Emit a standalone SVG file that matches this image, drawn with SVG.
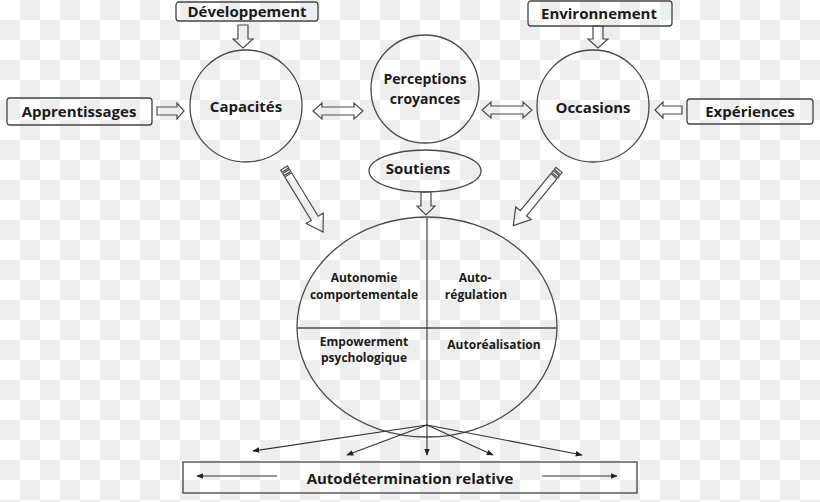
<svg xmlns="http://www.w3.org/2000/svg" width="820" height="502" viewBox="0 0 820 502">
<defs>
<pattern id="chk" width="40" height="40" patternUnits="userSpaceOnUse">
<rect width="40" height="40" fill="#ffffff"/>
<rect x="20" y="0" width="20" height="20" fill="#eeeeee"/>
<rect x="0" y="20" width="20" height="20" fill="#eeeeee"/>
</pattern>
<marker id="ah" viewBox="0 0 10 10" refX="9" refY="5" markerWidth="7" markerHeight="7" orient="auto" markerUnits="userSpaceOnUse">
<path d="M0,1 L10,5 L0,9 z" fill="#222"/>
</marker>
</defs>
<style>
.shape{fill:none;stroke:#4a4a4a;stroke-width:1.3}
.box{fill:none;stroke:#444;stroke-width:1.3}
.harrow{fill:none;stroke:#4a4a4a;stroke-width:1.2;stroke-linejoin:miter}
.lbl{font-family:"Open Sans","Liberation Sans",sans-serif;font-weight:700;fill:#1a1a1a;text-anchor:middle}
.big{font-size:15px}
.mid{font-size:14px}
.sm{font-size:12px}
.ln{fill:none;stroke:#333;stroke-width:1.1}
</style>
<rect width="820" height="502" fill="url(#chk)"/>

<g id="developpement">
<rect class="box" x="176" y="2" width="142" height="19" rx="3"/>
<text class="lbl big" x="247" y="17">Développement</text>
</g>
<g id="apprentissages">
<rect class="box" x="7" y="98" width="145" height="27" rx="3"/>
<text class="lbl big" x="79" y="117">Apprentissages</text>
</g>
<g id="environnement">
<rect class="box" x="528" y="1" width="144" height="25" rx="3"/>
<text class="lbl big" x="599" y="19">Environnement</text>
</g>
<g id="experiences">
<rect class="box" x="687" y="99" width="126" height="25" rx="3"/>
<text class="lbl big" x="750" y="117">Expériences</text>
</g>
<g id="capacites">
<circle class="shape" cx="246" cy="106" r="56"/>
<text class="lbl big" x="246" y="112">Capacités</text>
</g>
<g id="perceptions">
<circle class="shape" cx="425" cy="89" r="54"/>
<text class="lbl mid" x="425" y="84">Perceptions</text>
<text class="lbl mid" x="425" y="104">croyances</text>
</g>
<g id="occasions">
<circle class="shape" cx="593" cy="106" r="56"/>
<text class="lbl big" x="593" y="113">Occasions</text>
</g>
<g id="soutiens">
<ellipse class="shape" cx="425" cy="171" rx="56" ry="21"/>
<text class="lbl big" x="418" y="174">Soutiens</text>
</g>
<g id="autodetermination-ellipse">
<ellipse class="shape" cx="427" cy="327" rx="130" ry="110"/>
<line class="shape" x1="297" y1="328" x2="557" y2="328"/>
<text class="lbl sm" x="364" y="282">Autonomie</text>
<text class="lbl sm" x="364" y="299">comportementale</text>
<text class="lbl sm" x="475" y="282">Auto-</text>
<text class="lbl sm" x="476" y="299">régulation</text>
<text class="lbl sm" x="364" y="346">Empowerment</text>
<text class="lbl sm" x="364" y="362">psychologique</text>
<text class="lbl sm" x="494" y="349">Autoréalisation</text>
</g>
<g id="autodetermination-relative">
<rect class="box" x="183" y="462" width="454" height="31"/>
<text class="lbl big" x="410" y="484">Autodétermination relative</text>
<line class="ln" x1="277" y1="476" x2="197" y2="476" marker-end="url(#ah)"/>
<line class="ln" x1="542" y1="476" x2="617" y2="476" marker-end="url(#ah)"/>
</g>

<g id="connectors">
<polygon class="harrow" points="238,25 248,25 248,39 253,39 243,48 233,39 238,39"/>
<polygon class="harrow" points="593,26 603,26 603,39 608,39 598,48 588,39 593,39"/>
<polygon class="harrow" points="421,192 431,192 431,206 435,206 426,215 417,206 421,206"/>
<polygon class="harrow" points="157,107 177,107 177,103 184,111 177,119 177,115 157,115"/>
<polygon class="harrow" points="682,106 663,106 663,102 655,110 663,118 663,114 682,114"/>
<polygon class="harrow" points="313,111 322,103 322,107 354,107 354,103 363,111 354,119 354,115 322,115 322,119"/>
<polygon class="harrow" points="482,110 491,102 491,106 523,106 523,102 532,110 523,118 523,114 491,114 491,118"/>
<g transform="translate(284,168) rotate(58.6)">
<rect class="harrow" x="0" y="-4" width="2.5" height="8"/>
<rect class="harrow" x="4" y="-4" width="2.5" height="8"/>
<polygon class="harrow" points="8,-4 59,-4 59,-10 75,0 59,10 59,4 8,4"/>
</g>
<g transform="translate(559,170) rotate(129.4)">
<rect class="harrow" x="0" y="-4" width="2.5" height="8"/>
<rect class="harrow" x="4" y="-4" width="2.5" height="8"/>
<polygon class="harrow" points="8,-4 56,-4 56,-10 72,0 56,10 56,4 8,4"/>
</g>
<line class="ln" x1="427" y1="218" x2="427" y2="455" marker-end="url(#ah)"/>
<line class="ln" x1="427" y1="425" x2="253" y2="451" marker-end="url(#ah)"/>
<line class="ln" x1="427" y1="425" x2="347" y2="455" marker-end="url(#ah)"/>
<line class="ln" x1="427" y1="425" x2="493" y2="455" marker-end="url(#ah)"/>
<line class="ln" x1="427" y1="425" x2="582" y2="455" marker-end="url(#ah)"/>
</g>
</svg>
